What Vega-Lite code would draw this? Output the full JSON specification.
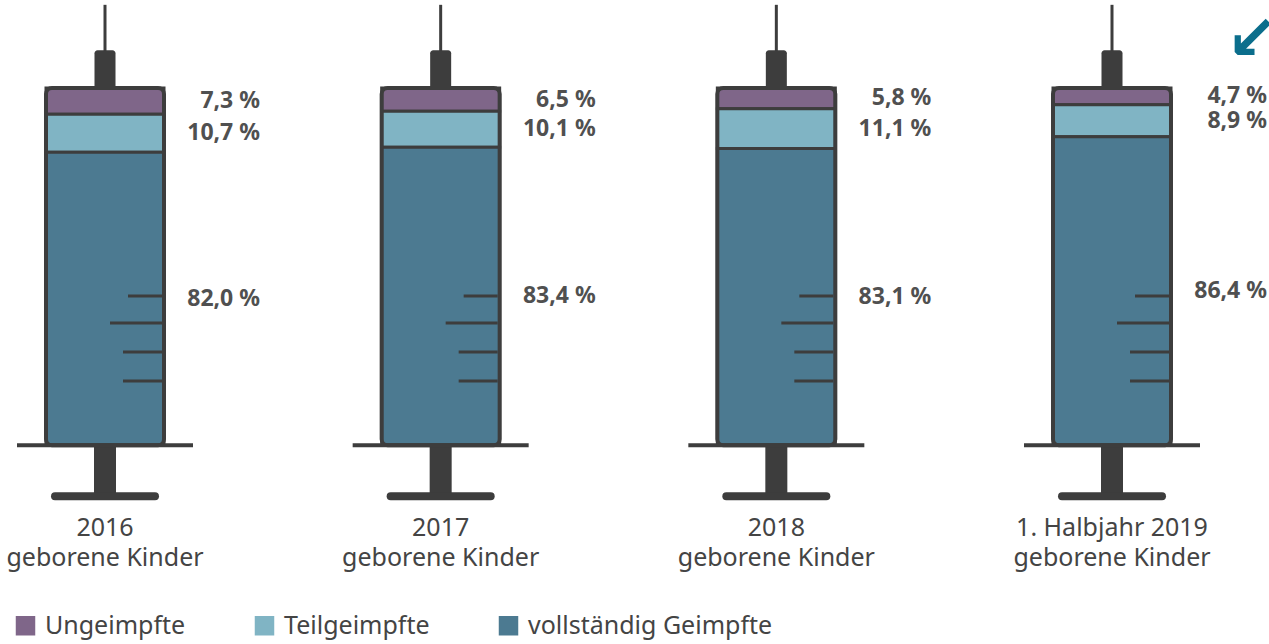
{
  "$schema": "https://vega.github.io/schema/vega-lite/v6.json",
  "width": 1269,
  "height": 644,
  "autosize": {"type": "none"},
  "padding": 0,
  "background": "white",
  "config": {"view": {"stroke": null}, "font": "Noto Sans"},
  "datasets": {
    "segments": [
      {"cat": "2016", "group": "Ungeimpfte", "ord": 3, "value": 7.3, "pct": "7,3 %"},
      {"cat": "2016", "group": "Teilgeimpfte", "ord": 2, "value": 10.7, "pct": "10,7 %"},
      {"cat": "2016", "group": "vollständig Geimpfte", "ord": 1, "value": 82.0, "pct": "82,0 %"},
      {"cat": "2017", "group": "Ungeimpfte", "ord": 3, "value": 6.5, "pct": "6,5 %"},
      {"cat": "2017", "group": "Teilgeimpfte", "ord": 2, "value": 10.1, "pct": "10,1 %"},
      {"cat": "2017", "group": "vollständig Geimpfte", "ord": 1, "value": 83.4, "pct": "83,4 %"},
      {"cat": "2018", "group": "Ungeimpfte", "ord": 3, "value": 5.8, "pct": "5,8 %"},
      {"cat": "2018", "group": "Teilgeimpfte", "ord": 2, "value": 11.1, "pct": "11,1 %"},
      {"cat": "2018", "group": "vollständig Geimpfte", "ord": 1, "value": 83.1, "pct": "83,1 %"},
      {"cat": "2019H1", "group": "Ungeimpfte", "ord": 3, "value": 4.7, "pct": "4,7 %"},
      {"cat": "2019H1", "group": "Teilgeimpfte", "ord": 2, "value": 8.9, "pct": "8,9 %"},
      {"cat": "2019H1", "group": "vollständig Geimpfte", "ord": 1, "value": 86.4, "pct": "86,4 %"}
    ],
    "syringes": [
      {"cat": "2016", "label": "2016\ngeborene Kinder"},
      {"cat": "2017", "label": "2017\ngeborene Kinder"},
      {"cat": "2018", "label": "2018\ngeborene Kinder"},
      {"cat": "2019H1", "label": "1. Halbjahr 2019\ngeborene Kinder"}
    ]
  },
  "encoding": {
    "x": {"field": "cat", "type": "nominal", "axis": null,
          "scale": {"type": "point", "domain": ["2016", "2017", "2018", "2019H1"], "range": [105, 1112], "padding": 0}}
  },
  "layer": [
    {
      "data": {"name": "syringes"},
      "mark": {"type": "rule", "color": "#3d3d3d", "strokeWidth": 3},
      "encoding": {
        "y": {"datum": 123.3, "type": "quantitative", "axis": null,
              "scale": {"domain": [-55.63, 124.65], "nice": false, "zero": false}},
        "y2": {"datum": 110}
      }
    },
    {
      "data": {"name": "syringes"},
      "mark": {"type": "bar", "color": "#3d3d3d", "width": 21, "cornerRadius": 3},
      "encoding": {"y": {"datum": 99}, "y2": {"datum": 110.6}}
    },
    {
      "data": {"name": "syringes"},
      "mark": {"type": "bar", "color": "#3d3d3d", "width": 22},
      "encoding": {"y": {"datum": 0}, "y2": {"datum": -14}}
    },
    {
      "data": {"name": "syringes"},
      "mark": {"type": "rule", "color": "#3d3d3d", "strokeWidth": 8, "strokeCap": "round", "xOffset": -50, "x2Offset": 50},
      "encoding": {"x2": {"field": "cat"}, "y": {"datum": -14.3}}
    },
    {
      "data": {"name": "segments"},
      "mark": {"type": "bar", "width": 118, "stroke": "#3d3d3d", "strokeWidth": 3},
      "encoding": {
        "y": {"field": "value", "type": "quantitative", "stack": "zero"},
        "order": {"field": "ord", "type": "quantitative"},
        "color": {
          "field": "group", "type": "nominal",
          "scale": {"domain": ["Ungeimpfte", "Teilgeimpfte", "vollständig Geimpfte"], "range": ["#7f6689", "#80b4c4", "#4c7a91"]},
          "legend": {
            "title": null, "orient": "none", "legendX": 13, "legendY": 613, "direction": "horizontal",
            "symbolType": "square", "symbolSize": 380, "symbolStrokeWidth": 0, "symbolOpacity": 1,
            "labelFontSize": 25, "labelColor": "#444444", "labelFont": "Noto Sans", "labelOffset": 7,
            "columnPadding": 66, "labelLimit": 400
          }
        }
      }
    },
    {
      "data": {"name": "syringes"},
      "mark": {"type": "bar", "width": 118, "fillOpacity": 0, "stroke": "#3d3d3d", "strokeWidth": 4, "cornerRadius": 6},
      "encoding": {"y": {"datum": 0}, "y2": {"datum": 100}}
    },
    {
      "data": {"name": "syringes"},
      "mark": {"type": "rule", "color": "#3d3d3d", "strokeWidth": 4, "xOffset": -88, "x2Offset": 88},
      "encoding": {"x2": {"field": "cat"}, "y": {"datum": 0}}
    },
    {
      "data": {"name": "syringes"},
      "mark": {"type": "rule", "color": "#3d3d3d", "strokeWidth": 3, "xOffset": 23, "x2Offset": 57},
      "encoding": {"x2": {"field": "cat"}, "y": {"datum": 41.8}}
    },
    {
      "data": {"name": "syringes"},
      "mark": {"type": "rule", "color": "#3d3d3d", "strokeWidth": 3, "xOffset": 5, "x2Offset": 57},
      "encoding": {"x2": {"field": "cat"}, "y": {"datum": 34.2}}
    },
    {
      "data": {"name": "syringes"},
      "mark": {"type": "rule", "color": "#3d3d3d", "strokeWidth": 3, "xOffset": 18, "x2Offset": 57},
      "encoding": {"x2": {"field": "cat"}, "y": {"datum": 26.1}}
    },
    {
      "data": {"name": "syringes"},
      "mark": {"type": "rule", "color": "#3d3d3d", "strokeWidth": 3, "xOffset": 18, "x2Offset": 57},
      "encoding": {"x2": {"field": "cat"}, "y": {"datum": 18.0}}
    },
    {
      "data": {"name": "segments"},
      "transform": [
        {"stack": "value", "groupby": ["cat"], "sort": [{"field": "ord", "order": "ascending"}], "as": ["lo", "hi"]},
        {"fold": ["lo", "hi"], "as": ["edge", "v"]},
        {"aggregate": [{"op": "mean", "field": "v", "as": "mid"}], "groupby": ["cat", "group", "pct"]}
      ],
      "mark": {"type": "text", "align": "right", "baseline": "middle", "xOffset": 155, "fontSize": 23, "fontWeight": "bold", "color": "#505050", "font": "Noto Sans"},
      "encoding": {
        "y": {"field": "mid", "type": "quantitative"},
        "text": {"field": "pct"}
      }
    },
    {
      "data": {"name": "syringes"},
      "mark": {"type": "text", "align": "center", "baseline": "alphabetic", "lineBreak": "\n", "lineHeight": 30, "fontSize": 25, "color": "#444444", "font": "Noto Sans"},
      "encoding": {"y": {"datum": -25.4}, "text": {"field": "label"}}
    },
    {
      "data": {"values": [{"cat": "2019H1", "sym": "↙"}]},
      "mark": {"type": "text", "align": "center", "baseline": "middle", "xOffset": 140, "fontSize": 62, "fontWeight": "bold", "color": "#0b6e8c", "font": "DejaVu Sans"},
      "encoding": {"y": {"datum": 113.5}, "text": {"field": "sym"}}
    }
  ]
}
